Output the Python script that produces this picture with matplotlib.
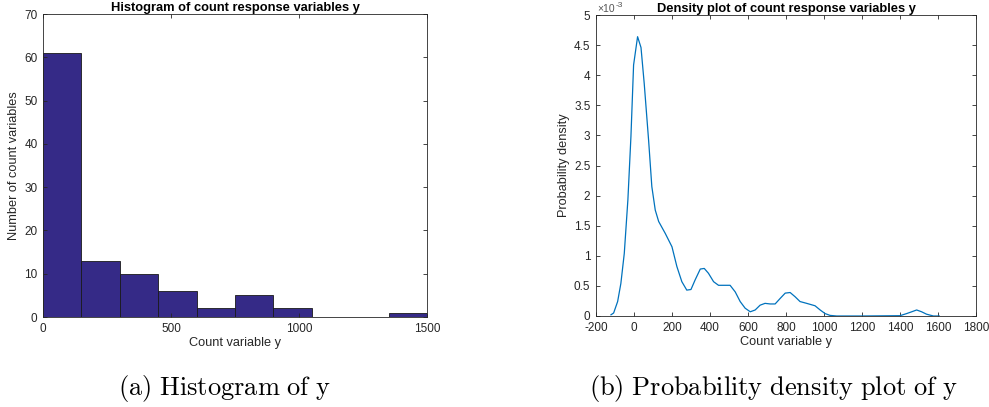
import matplotlib.pyplot as plt
import numpy as np

# histogram counts, bins of width 150
bin_edges = [0, 150, 300, 450, 600, 750, 900, 1050, 1200, 1350, 1500]
counts = [61, 13, 10, 6, 2, 5, 2, 0, 0, 1]

# kernel density estimate (density in units of 1e-3)
dens_x = [-121, -107, -86, -69, -51, -32, -16, -2, 19, 37, 54, 77, 94, 112, 130,
          165, 200, 226, 252, 278, 300, 322, 349, 370, 392, 419, 445, 471, 506,
          533, 559, 585, 612, 638, 664, 690, 717, 743, 769, 796, 822, 848, 874,
          909, 953, 980, 1006, 1032, 1067, 1200, 1400, 1435, 1462, 1488, 1514,
          1540, 1576, 1607]
dens_y = [0.02, 0.05, 0.24, 0.54, 1.04, 1.93, 2.98, 4.17, 4.64, 4.46, 3.86, 2.92,
          2.15, 1.76, 1.57, 1.37, 1.15, 0.82, 0.57, 0.43, 0.44, 0.60, 0.78, 0.79,
          0.71, 0.57, 0.51, 0.51, 0.51, 0.40, 0.24, 0.13, 0.07, 0.10, 0.18, 0.21,
          0.20, 0.20, 0.29, 0.38, 0.39, 0.32, 0.24, 0.21, 0.17, 0.10, 0.04, 0.01,
          0.0, 0.0, 0.005, 0.04, 0.07, 0.10, 0.07, 0.03, 0.0, 0.0]

plt.rcParams['font.family'] = ['Liberation Sans', 'DejaVu Sans']
plt.rcParams['mathtext.fontset'] = 'cm'
plt.rcParams['axes.unicode_minus'] = False
axis_gray = '#262626'


def matlab_style(ax):
    for s in ax.spines.values():
        s.set_color(axis_gray)
        s.set_linewidth(0.6)
    ax.tick_params(direction='in', length=3, width=0.6, top=True, right=True,
                   colors=axis_gray, labelsize=8.5, labelcolor=axis_gray, pad=4)


fig = plt.figure(figsize=(9.89, 4.07), dpi=100)

ax1 = fig.add_axes([0.0435, 0.2211, 0.3882, 0.7445])
ax1.bar(bin_edges[:-1], counts, width=np.diff(bin_edges), align='edge',
        color='#352a87', edgecolor='#1a1a1a', linewidth=0.6)
ax1.set_xlim(0, 1500)
ax1.set_ylim(0, 70)
ax1.set_xticks([0, 500, 1000, 1500])
ax1.set_yticks(range(0, 71, 10))
matlab_style(ax1)
ax1.set_xlabel("Count variable y", fontsize=9.2, color=axis_gray, labelpad=2)
ax1.set_ylabel("Number of count variables", fontsize=9.2, color=axis_gray, labelpad=3)
ax1.set_title("Histogram of count response variables y", fontsize=9.3,
              fontweight='bold', pad=2)

ax2 = fig.add_axes([0.6026, 0.2236, 0.3842, 0.7395])
ax2.plot(dens_x, np.array(dens_y) * 1e-3, color='#0072bd', linewidth=0.9)
ax2.set_xlim(-200, 1800)
ax2.set_ylim(0, 5e-3)
ax2.set_xticks(range(-200, 1801, 200))
yt = np.arange(0, 5.01, 0.5)
ax2.set_yticks(yt * 1e-3)
ax2.set_yticklabels(['%g' % v for v in yt])
matlab_style(ax2)
# exponent label above the y axis, as MATLAB draws it
ax2.text(0.003, 1.01, "\u00d710", transform=ax2.transAxes, fontsize=7.5,
         color='#555555', ha='left', va='baseline')
ax2.text(0.052, 1.025, "-3", transform=ax2.transAxes, fontsize=6,
         color='#555555', ha='left', va='baseline')
ax2.set_xlabel("Count variable y", fontsize=9.2, color=axis_gray, labelpad=2)
ax2.set_ylabel("Probability density", fontsize=9.2, color=axis_gray, labelpad=3)
ax2.set_title("Density plot of count response variables y", fontsize=9.3,
              fontweight='bold', pad=2)

fig.text(225 / 989, 1 - 388 / 407, r"$\mathrm{(a)\ Histogram\ of\ y}$",
         fontsize=19, ha='center', va='center')
fig.text(773 / 989, 1 - 388 / 407, r"$\mathrm{(b)\ Probability\ density\ plot\ of\ y}$",
         fontsize=19, ha='center', va='center')

fig.savefig("out.png", dpi=100)
